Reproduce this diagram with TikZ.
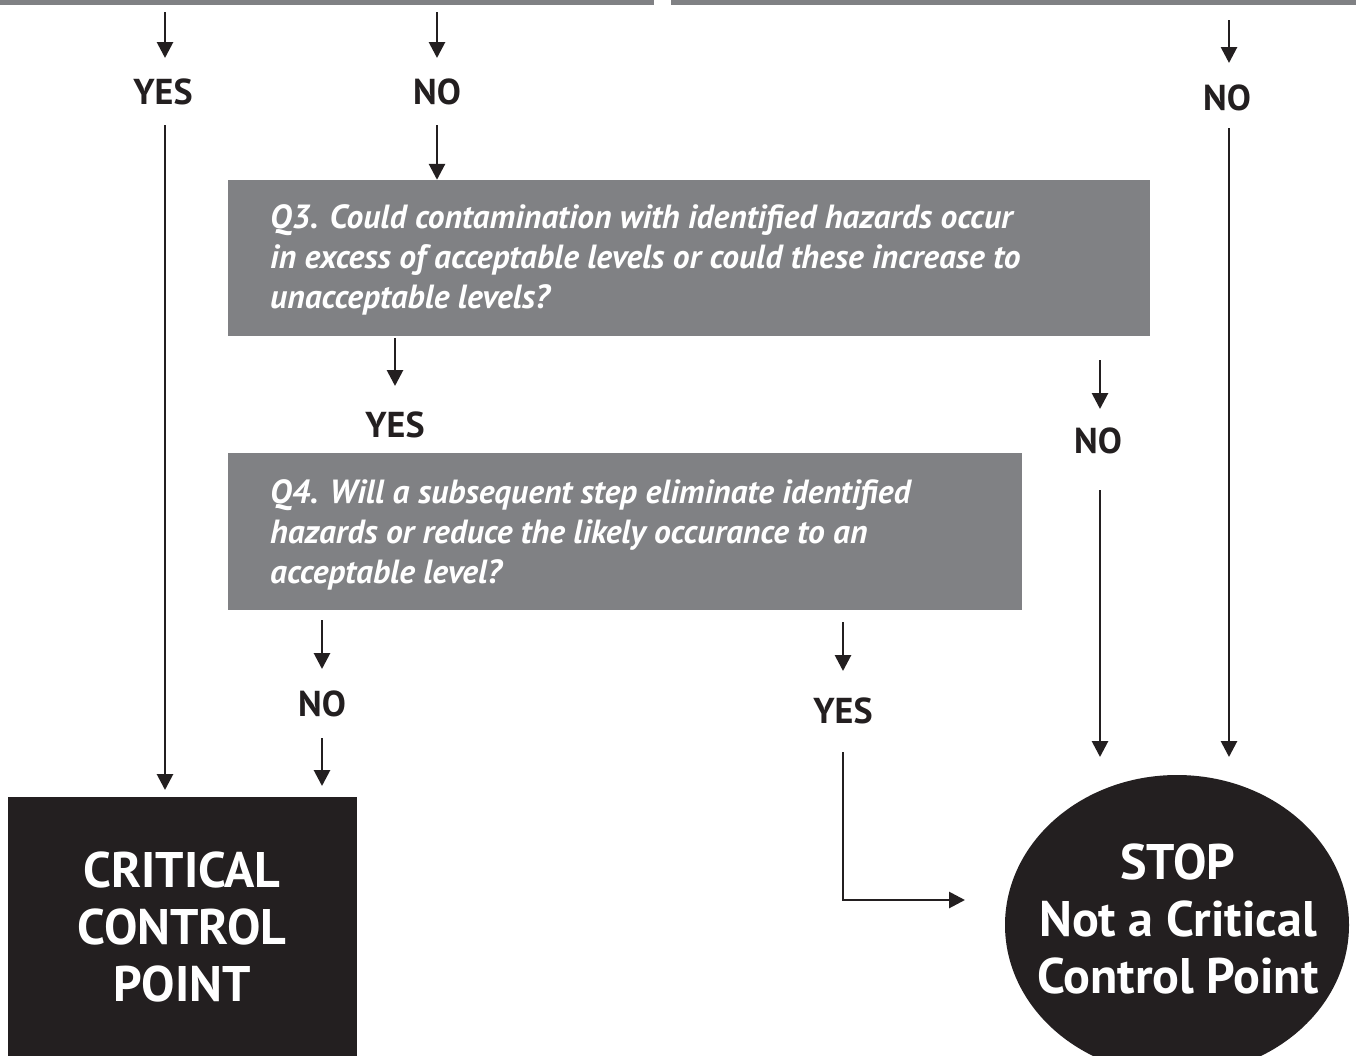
\documentclass[tikz,border=0pt]{standalone}
\usepackage{fontspec}
\setmainfont{PT Sans}
\usetikzlibrary{arrows.meta,shapes.geometric}
\definecolor{qgray}{HTML}{808184}
\definecolor{boxblack}{HTML}{231F20}
\tikzset{
  arr/.style={line width=2.8pt, draw=boxblack, -{Triangle[width=16pt,length=16pt]}},
  lbl/.style={font=\fontsize{36}{40}\selectfont\bfseries, text=boxblack, inner sep=0pt},
  qbox/.style={fill=qgray, draw=none, inner sep=0pt},
  qtext/.style={font=\fontsize{33.5}{40}\selectfont\bfseries\itshape, text=white, align=left, anchor=north west, inner sep=0pt},
  bigtext/.style={font=\fontsize{50}{57}\selectfont\bfseries, text=white, align=center},
}
\begin{document}
\begin{tikzpicture}[x=1pt,y=-1pt]
\useasboundingbox (0,0) rectangle (1356,1055);
\clip (0,0) rectangle (1356,1055);
% partial boxes of the previous questions (top)
\fill[qgray] (0,-20) rectangle (654,5);
\fill[qgray] (671,-20) rectangle (1356,5);
% labels
\node[lbl] (yes1) at (163,92) {YES};
\node[lbl] (no1) at (437,92) {NO};
\node[lbl] (no2) at (1227,98) {NO};
\node[lbl] (yes3) at (395,425) {YES};
\node[lbl] (no3) at (1098,441) {NO};
\node[lbl] (no4) at (322,704) {NO};
\node[lbl] (yes4) at (843,711) {YES};
% question boxes
\node[qbox, minimum width=922pt, minimum height=156pt] (q3) at (689,258) {};
\node[qtext] (q3t) at (270,204) {Q3. Could contamination with identified hazards occur\\in excess of acceptable levels or could these increase to\\unacceptable levels?};
\node[qbox, minimum width=794pt, minimum height=157pt] (q4) at (625,531.5) {};
\node[qtext] (q4t) at (270,479) {Q4. Will a subsequent step eliminate identified\\hazards or reduce the likely occurance to an\\acceptable level?};
% terminals
\node[fill=boxblack, minimum width=349pt, minimum height=273pt, inner sep=0pt] (ccp) at (182.5,933.5) {};
\node[bigtext] (ccpt) at (182,927) {CRITICAL\\CONTROL\\POINT};
\node[ellipse, fill=boxblack, minimum width=344pt, minimum height=300pt, inner sep=0pt] (stop) at (1177,925) {};
\node[bigtext] (stopt) at (1178,919) {STOP\\Not a Critical\\Control Point};
% connector ends
\coordinate (s1) at (165,12);   \coordinate (e1) at (165,58);
\coordinate (s2) at (165,125);  \coordinate (e2) at (165,790);
\coordinate (s3) at (437,12);   \coordinate (e3) at (437,58);
\coordinate (s4) at (437,125);
\coordinate (s5) at (1229,20);  \coordinate (e5) at (1229,63);
\coordinate (s6) at (1229,128); \coordinate (e6) at (1229,757);
\coordinate (s7) at (395,338);  \coordinate (e7) at (395,386);
\coordinate (s8) at (1100,360); \coordinate (e8) at (1100,409);
\coordinate (s9) at (1100,490); \coordinate (e9) at (1100,757);
\coordinate (s10) at (322,620); \coordinate (e10) at (322,669);
\coordinate (s11) at (322,738); \coordinate (e11) at (322,786);
\coordinate (s12) at (843,622); \coordinate (e12) at (843,671);
\coordinate (s13) at (843,752); \coordinate (e13) at (965,900);
% connectors
\draw[arr] (s1) -- (e1);
\draw[arr] (s2) -- (e2);
\draw[arr] (s3) -- (e3);
\draw[arr] (s4) -- (q3.north -| s4);
\draw[arr] (s5) -- (e5);
\draw[arr] (s6) -- (e6);
\draw[arr] (s7) -- (e7);
\draw[arr] (s8) -- (e8);
\draw[arr] (s9) -- (e9);
\draw[arr] (s10) -- (e10);
\draw[arr] (s11) -- (e11);
\draw[arr] (s12) -- (e12);
\draw[arr] (s13) |- (e13);
\end{tikzpicture}
\end{document}
